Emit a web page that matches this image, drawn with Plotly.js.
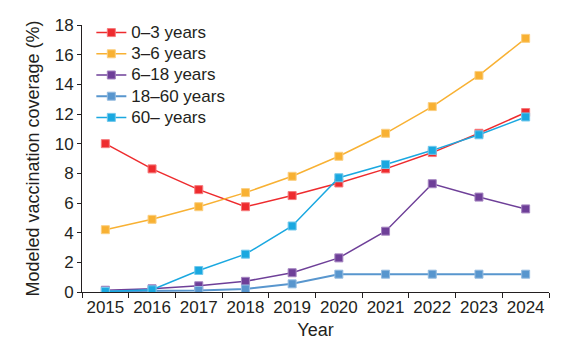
<!DOCTYPE html>
<html>
<head>
<meta charset="utf-8">
<script src="https://cdn.plot.ly/plotly-3.0.1.min.js"></script>
<style>html,body{margin:0;padding:0;background:#fff;}#chart{width:567px;height:356px;}</style>
</head>
<body>
<div id="chart"></div>
<script>
const years = ["2015","2016","2017","2018","2019","2020","2021","2022","2023","2024"];
const seriesNames = ["0\u20133 years","3\u20136 years","6\u201318 years","18\u201360 years","60\u2013 years"];
const age0to3 = [10.0, 8.3, 6.9, 5.75, 6.5, 7.35, 8.3, 9.4, 10.7, 12.1];
const age3to6 = [4.2, 4.9, 5.75, 6.7, 7.8, 9.15, 10.7, 12.5, 14.6, 17.1];
const age6to18 = [0.12, 0.22, 0.42, 0.72, 1.3, 2.3, 4.1, 7.3, 6.4, 5.6];
const age18to60 = [0.05, 0.06, 0.1, 0.2, 0.55, 1.2, 1.2, 1.2, 1.2, 1.2];
const age60plus = [0.03, 0.15, 1.45, 2.55, 4.45, 7.7, 8.6, 9.55, 10.6, 11.8];

const colors = ["#EE2B2E", "#F8B133", "#6E3F98", "#5896CE", "#1AA8E0"];
const borders = ["#F57A7C", "#FBCF80", "#A585C0", "#95BCE0", "#72C8EC"];
const widths = [1.5, 1.5, 1.5, 2, 1.5];
const allValues = [age0to3, age3to6, age6to18, age18to60, age60plus];

const traces = allValues.map((vals, i) => ({
  type: "scatter",
  mode: "lines+markers",
  name: '<span style="font-size:17px">' + seriesNames[i] + '</span>',
  x: years,
  y: vals,
  line: {color: colors[i], width: widths[i]},
  marker: {symbol: "square", size: 8, color: colors[i], line: {color: borders[i], width: 1}}
}));

const fontFam = "Liberation Sans, Arial, sans-serif";
const txt = "#231F20";
const layout = {
  width: 567, height: 356,
  margin: {l: 82, r: 18, t: 25, b: 64},
  paper_bgcolor: "#fff", plot_bgcolor: "#fff",
  font: {family: fontFam, size: 17, color: txt},
  showlegend: true,
  legend: {x: 0.02, y: 1.03, xanchor: "left", yanchor: "top", bgcolor: "rgba(0,0,0,0)",
           font: {family: fontFam, size: 14, color: txt}, tracegroupgap: 0, itemwidth: 30},
  xaxis: {
    type: "category", range: [-0.5, 9.5], tickson: "boundaries", tickangle: 0,
    ticks: "outside", ticklen: 5, tickcolor: txt, tickwidth: 1,
    showline: true, linecolor: txt, linewidth: 1, showgrid: false, zeroline: false,
    tickfont: {family: fontFam, size: 17, color: txt},
    title: {text: "Year", font: {family: fontFam, size: 18, color: txt}, standoff: 6}
  },
  yaxis: {
    range: [0, 18], dtick: 2, tick0: 0,
    ticks: "outside", ticklen: 4, tickcolor: txt, tickwidth: 1,
    showline: true, linecolor: txt, linewidth: 1, showgrid: false, zeroline: false,
    tickfont: {family: fontFam, size: 17, color: txt},
    title: {text: "Modeled vaccination coverage (%)", font: {family: fontFam, size: 18, color: txt}, standoff: 10}
  }
};
Plotly.newPlot("chart", traces, layout, {displayModeBar: false, staticPlot: true});
</script>
</body>
</html>
